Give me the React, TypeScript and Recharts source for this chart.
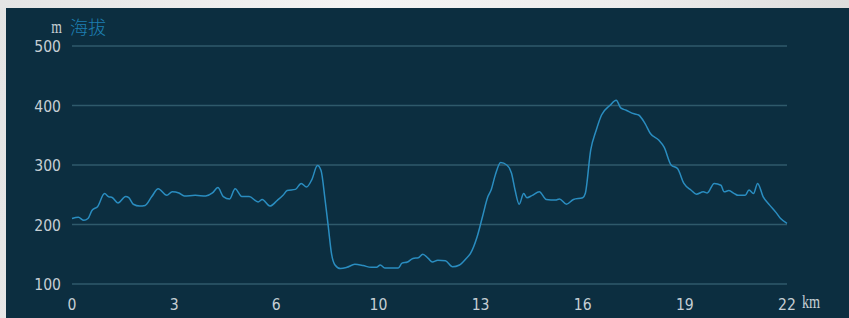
import React from "react";
import { LineChart, Line, XAxis, YAxis, CartesianGrid } from "recharts";

const distanceKm = [
  0, 0.2, 0.37, 0.5, 0.63, 0.8, 1.02, 1.14, 1.27, 1.44, 1.68, 1.78, 1.92, 2.12, 2.29, 2.5, 2.7, 2.97,
  3.14, 3.35, 3.52, 3.86, 4.19, 4.4, 4.57, 4.74, 4.94, 5.11, 5.32, 5.55, 5.83, 5.96, 6.2, 6.44, 6.61,
  6.74, 7.0, 7.18, 7.35, 7.51, 7.69, 7.8, 7.93, 8.03, 8.13, 8.24, 8.41, 8.61, 8.86, 9.12, 9.37, 9.54,
  9.66, 9.8, 10.22, 10.34, 10.51, 10.68, 10.85, 10.99, 11.16, 11.29, 11.46, 11.7, 11.92, 12.14, 12.35,
  12.48, 12.69, 12.86, 13.03, 13.13, 13.26, 13.43, 13.62, 13.77, 13.88, 14.01, 14.15, 14.25, 14.42,
  14.64, 14.86, 15.15, 15.27, 15.49, 15.71, 16.0, 16.08, 16.25, 16.42, 16.59, 16.85, 17.05, 17.19,
  17.36, 17.61, 17.75, 17.95, 18.12, 18.38, 18.55, 18.77, 18.97, 19.17, 19.39, 19.56, 19.78, 19.9,
  20.12, 20.33, 20.43, 20.58, 20.75, 20.87, 21.09, 21.21, 21.35, 21.48, 21.65, 21.85, 22.06, 22.2, 22.4,
];

const elevationM = [
  210, 212, 207, 210, 224, 230, 252, 247, 245, 236, 247, 245, 234, 231, 232, 247, 260, 249,
  255, 253, 248, 249, 248, 253, 262, 247, 243, 260, 247, 247, 238, 242, 231, 241, 249,
  257, 259, 269, 263, 275, 299, 291, 241, 196, 151, 132, 126, 128, 133, 131, 128, 128,
  132, 127, 127, 135, 137, 143, 144, 150, 143, 137, 140, 139, 129, 132, 143,
  151, 179, 213, 247, 258, 283, 304, 300, 286, 258, 234, 252, 245, 249,
  255, 242, 241, 243, 234, 242, 245, 252, 325, 358, 384, 400, 409, 396,
  392, 386, 384, 370, 353, 342, 330, 300, 294, 269, 258, 251, 255, 253,
  269, 266, 255, 257, 252, 249, 249, 258, 252, 269, 247, 233, 220, 210, 202,
];

const xTicks = [0, 3.2, 6.4, 9.6, 12.8, 16, 19.2, 22.4];
const yTicks = [100, 200, 300, 400, 500];

const data = distanceKm.map((d, i) => ({ km: d, elev: elevationM[i] }));

const LABEL = "#c6cfd4";
const LINE = "#2a8dc0";
const GRID = "#2f5a6b";
const BG = "#0c2e40";

const YTick = (props: any) => {
  const { x, y, payload } = props;
  return (
    <text
      transform={`translate(${x},${y + 6}) scale(0.85,1)`}
      textAnchor="end"
      fill={LABEL}
      fontFamily="DejaVu Sans"
      fontSize={16.5}
    >
      {payload.value}
    </text>
  );
};

const XTick = (props: any) => {
  const { x, y, payload } = props;
  return (
    <text
      transform={`translate(${x},${y + 26}) scale(0.85,1)`}
      textAnchor="middle"
      fill={LABEL}
      fontFamily="DejaVu Sans"
      fontSize={16.5}
    >
      {Math.round(payload.value)}
    </text>
  );
};

export default function App() {
  return (
    <div
      style={{
        position: "absolute",
        left: 0,
        top: 0,
        width: 849,
        height: 318,
        overflow: "hidden",
        background: "linear-gradient(100deg, #e4e4e4 0%, #f4f4f4 40%, #ececec 70%, #d9d9d9 100%)",
      }}
    >
      <div
        style={{ position: "absolute", left: 6, top: 8, width: 843, height: 310, background: BG }}
      />
      <div style={{ position: "absolute", left: 0, top: 0 }}>
        <LineChart
          width={849}
          height={318}
          data={data}
          margin={{ top: 46, right: 62, bottom: 0, left: 0 }}
        >
          <CartesianGrid vertical={false} stroke={GRID} strokeWidth={1.5} />
          <XAxis
            dataKey="km"
            type="number"
            domain={[0, 22.4]}
            ticks={xTicks}
            interval={0}
            axisLine={false}
            tickLine={false}
            tickSize={0}
            tickMargin={0}
            height={34}
            tick={<XTick />}
          />
          <YAxis
            type="number"
            domain={[100, 500]}
            ticks={yTicks}
            interval={0}
            axisLine={false}
            tickLine={false}
            tickSize={0}
            tickMargin={11}
            width={72}
            tick={<YTick />}
          />
          <Line
            type="monotone"
            dataKey="elev"
            stroke={LINE}
            strokeWidth={1.5}
            dot={false}
            isAnimationActive={false}
          />
        </LineChart>
      </div>
      <svg
        width={849}
        height={318}
        style={{ position: "absolute", left: 0, top: 0, pointerEvents: "none" }}
      >
        <text
          transform="translate(62,33) scale(0.72,1)"
          textAnchor="end"
          fill={LABEL}
          fontFamily="Liberation Serif"
          fontSize={19}
        >
          m
        </text>
        <text x={70} y={34} fill="#1d7fb2" fontFamily="Noto Sans CJK SC" fontWeight={300} fontSize={18}>
          海拔
        </text>
        <text
          transform="translate(802,308) scale(0.75,1)"
          fill={LABEL}
          fontFamily="Liberation Serif"
          fontSize={19}
        >
          km
        </text>
      </svg>
    </div>
  );
}
